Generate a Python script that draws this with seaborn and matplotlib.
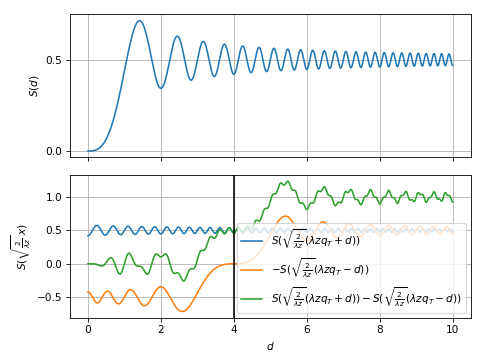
import numpy as np
import pandas as pd
import matplotlib
matplotlib.use("Agg")
import matplotlib.pyplot as plt
import seaborn as sns

# Parameters of the plotted Fresnel-integral curves
d_range = [0.0, 10.0]
lambda_z = [2.0]
q_T = [2.0]
xticks = [0, 2, 4, 6, 8, 10]
top_yticks = [0.0, 0.5]
bottom_yticks = [-0.5, 0.0, 0.5, 1.0]

lz = lambda_z[0]
shift = lz * q_T[0]          # lambda z q_T
scale = np.sqrt(2.0 / lz)

# Fresnel sine integral S(x) = int_0^x sin(pi t^2 / 2) dt
t = np.linspace(0.0, 16.0, 320001)
f = np.sin(np.pi * t ** 2 / 2.0)
S_grid = np.concatenate([[0.0], np.cumsum((f[1:] + f[:-1]) / 2.0 * np.diff(t))])


def fresnel_S(x):
    x = np.asarray(x)
    return np.sign(x) * np.interp(np.abs(x), t, S_grid)


d = np.linspace(d_range[0], d_range[1], 4000)
top_df = pd.DataFrame({"d": d, "S": fresnel_S(d)})
s_plus = fresnel_S(scale * (shift + d))
s_minus = -fresnel_S(scale * (shift - d))
bot_df = pd.DataFrame({"d": d, "plus": s_plus, "minus": s_minus, "diff": s_plus + s_minus})

DPI = 75.625
fig, (ax1, ax2) = plt.subplots(2, 1, figsize=(6.4, 4.8), dpi=DPI, sharex=True)
fig.subplots_adjust(left=0.144, right=0.973, top=0.961, bottom=0.124, hspace=0.12)

sns.lineplot(data=top_df, x="d", y="S", ax=ax1, color="C0", linewidth=1.5)
ax1.set_ylabel(r"$S(d)$")
ax1.set_xlabel("")
ax1.set_yticks(top_yticks)
ax1.grid(True)

sns.lineplot(data=bot_df, x="d", y="plus", ax=ax2, color="C0", linewidth=1.5,
             label=r"$S(\sqrt{\frac{2}{\lambda z}}(\lambda z q_T+d))$")
sns.lineplot(data=bot_df, x="d", y="minus", ax=ax2, color="C1", linewidth=1.5,
             label=r"$-S(\sqrt{\frac{2}{\lambda z}}(\lambda z q_T-d))$")
sns.lineplot(data=bot_df, x="d", y="diff", ax=ax2, color="C2", linewidth=1.5,
             label=r"$S(\sqrt{\frac{2}{\lambda z}}(\lambda z q_T+d))-S(\sqrt{\frac{2}{\lambda z}}(\lambda z q_T-d))$")
ax2.axvline(shift, color="black", linewidth=1.5)
ax2.set_ylabel(r"$S(\sqrt{\frac{2}{\lambda z}}\,x)$")
ax2.set_xlabel(r"$d$")
ax2.set_xticks(xticks)
ax2.set_yticks(bottom_yticks)
ax2.grid(True)
ax2.legend(loc="lower right")

fig.savefig("out.png", dpi=DPI)
